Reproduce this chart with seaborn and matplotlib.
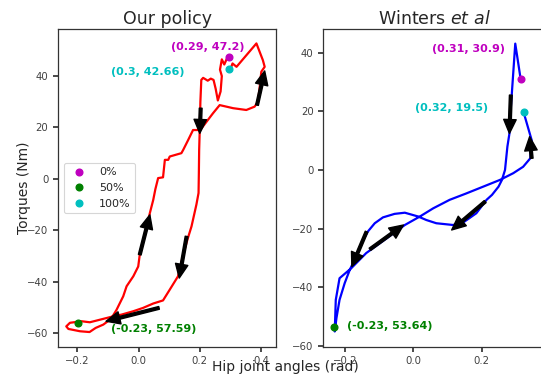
import matplotlib
matplotlib.use("Agg")
import matplotlib.pyplot as plt
import seaborn as sns
import pandas as pd

# ---------------- data ----------------
# Left panel: "Our policy" (hip angle rad, torque Nm), gait order
ours_angle = [0.29, 0.28, 0.272, 0.266, 0.272, 0.268, 0.259, 0.252, 0.245, 0.236,
              0.226, 0.218, 0.211, 0.205, 0.202, 0.200, 0.198, 0.197, 0.196, 0.189,
              0.173, 0.160, 0.145, 0.129, 0.102, 0.080, 0.048, 0.015, -0.017, -0.055,
              -0.083, -0.126, -0.159, -0.186, -0.224, -0.236, -0.229, -0.191, -0.160, -0.140,
              -0.115, -0.090, -0.072, -0.050, -0.039, -0.017, -0.001, 0.004, 0.020, 0.037,
              0.048, 0.055, 0.064, 0.080, 0.086, 0.097, 0.102, 0.140, 0.146, 0.162,
              0.178, 0.195, 0.206, 0.243, 0.265, 0.309, 0.352, 0.379, 0.390, 0.395,
              0.401, 0.412, 0.406, 0.385, 0.320, 0.307, 0.300]
ours_torque = [47.2, 44.5, 46.5, 42.5, 40.0, 34.0, 30.5, 35.0, 38.5, 39.0,
               38.2, 38.8, 39.3, 38.5, 30.0, 19.5, 11.3, 2.0, -5.5, -10.0,
               -18.5, -23.5, -30.0, -37.9, -43.1, -47.3, -48.5, -50.2, -51.5, -52.8,
               -53.5, -54.8, -55.8, -55.4, -56.0, -57.4, -58.4, -59.3, -59.6, -58.0,
               -56.7, -54.5, -51.0, -45.7, -41.8, -37.9, -34.1, -29.5, -22.0, -13.3,
               -8.2, -4.0, 0.3, 0.6, 7.4, 7.4, 8.7, 10.0, 11.3, 15.1,
               19.0, 19.0, 19.7, 25.5, 28.7, 27.5, 26.8, 28.1, 30.0, 35.0,
               41.7, 43.6, 46.2, 52.7, 43.6, 44.9, 42.66]

# Right panel: "Winters et al"
wint_angle = [0.314, 0.298, 0.288, 0.283, 0.281, 0.275, 0.268, 0.259, 0.249, 0.230,
              0.214, 0.184, 0.145, 0.116, 0.067, 0.038, 0.014, -0.025, -0.055, -0.089,
              -0.113, -0.133, -0.152, -0.172, -0.186, -0.201, -0.216, -0.225, -0.230, -0.227,
              -0.216, -0.182, -0.138, -0.080, -0.025, 0.019, 0.058, 0.106, 0.155, 0.204,
              0.253, 0.292, 0.321, 0.342, 0.346, 0.323]
wint_torque = [30.9, 43.2, 26.2, 18.0, 12.5, 8.0, 0.0, -3.4, -5.7, -8.5,
               -10.2, -14.8, -18.0, -18.8, -18.2, -17.1, -15.9, -14.6, -15.0, -16.2,
               -18.2, -21.0, -25.0, -30.7, -34.1, -38.7, -44.4, -50.6, -55.2, -44.4,
               -37.0, -33.6, -28.4, -23.5, -18.8, -15.9, -13.1, -10.2, -8.0, -5.7,
               -3.4, -1.1, 1.1, 4.0, 10.2, 19.5]

# gait-phase markers (0%, 50%, 100%)
phase_labels = ["0%", "50%", "100%"]
phase_colors = ["#bf00bf", "#008000", "#00bfbf"]
ours_phase_x = [0.296, -0.197, 0.294]
ours_phase_y = [47.3, -56.0, 42.6]
wint_phase_x = [0.314, -0.231, 0.323]
wint_phase_y = [31.0, -53.5, 19.7]

# annotation texts and their positions
ours_notes = ["(0.29, 47.2)", "(-0.23, 57.59)", "(0.3, 42.66)"]
ours_note_x = [0.226, 0.051, 0.029]
ours_note_y = [51.4, -58.6, 41.7]
wint_notes = ["(0.31, 30.9)", "(-0.23, 53.64)", "(0.32, 19.5)"]
wint_note_x = [0.161, -0.068, 0.112]
wint_note_y = [41.2, -53.2, 21.3]

# direction arrows: (tail_x, tail_y, tip_x, tip_y)
ours_arrows = [(0.387, 28.7, 0.412, 42.0),
               (0.203, 27.5, 0.200, 17.7),
               (0.157, -22.4, 0.133, -38.6),
               (0.067, -50.2, -0.106, -55.4),
               (0.004, -29.5, 0.037, -14.0)]
wint_arrows = [(0.285, 25.6, 0.281, 12.5),
               (0.346, 4.0, 0.340, 11.4),
               (0.210, -10.8, 0.112, -20.5),
               (-0.137, -21.1, -0.180, -33.0),
               (-0.127, -27.1, -0.029, -18.8)]

ours_df = pd.DataFrame({"angle": ours_angle, "torque": ours_torque})
wint_df = pd.DataFrame({"angle": wint_angle, "torque": wint_torque})

# ---------------- style ----------------
sns.set_theme(style="ticks", color_codes=False)
plt.rcParams["font.family"] = ["DejaVu Sans"]
plt.rcParams.update({
    "axes.edgecolor": "0.2",
    "axes.linewidth": 0.9,
    "xtick.color": "0.2",
    "ytick.color": "0.2",
    "xtick.labelcolor": "0.25",
    "ytick.labelcolor": "0.25",
    "xtick.major.size": 3.5,
    "ytick.major.size": 3.5,
    "xtick.labelsize": 7.3,
    "ytick.labelsize": 7.3,
    "text.color": "0.15",
    "axes.labelcolor": "0.15",
})

fig = plt.figure(figsize=(5.41, 3.75), dpi=100)
ax1 = fig.add_axes([0.1072, 0.0755, 0.403, 0.8464])
ax2 = fig.add_axes([0.5976, 0.0755, 0.4098, 0.8464])


def draw(ax, df, color, px, py, notes, nx, ny, arrows):
    sns.lineplot(data=df, x="angle", y="torque", sort=False, estimator=None,
                 color=color, linewidth=1.6, ax=ax)
    for i in range(3):
        ax.plot(px[i], py[i], "o", color=phase_colors[i], markersize=4.8,
                label=phase_labels[i], zorder=4)
        ax.text(nx[i], ny[i], notes[i], color=phase_colors[i], fontsize=8,
                fontweight="bold", ha="center", va="center")
    for tx, ty, hx, hy in arrows:
        ax.annotate("", xy=(hx, hy), xytext=(tx, ty),
                    arrowprops=dict(facecolor="black", edgecolor="black",
                                    width=2.0, headwidth=9, headlength=10,
                                    shrink=0.0), zorder=5)
    ax.set_xlabel("")
    ax.set_ylabel("")


draw(ax1, ours_df, "#ff0000", ours_phase_x, ours_phase_y, ours_notes,
     ours_note_x, ours_note_y, ours_arrows)
draw(ax2, wint_df, "#0000ff", wint_phase_x, wint_phase_y, wint_notes,
     wint_note_x, wint_note_y, wint_arrows)

ax1.set_xlim(-0.263, 0.449)
ax1.set_ylim(-65.3, 58.2)
ax2.set_xlim(-0.2635, 0.385)
ax2.set_ylim(-60.4, 48.1)
ax1.set_xticks([-0.2, 0.0, 0.2, 0.4])
ax1.set_yticks([-60, -40, -20, 0, 20, 40])
ax2.set_xticks([-0.2, 0.0, 0.2])
ax2.set_yticks([-60, -40, -20, 0, 20, 40])

ax1.set_title("Our policy", fontsize=12.5, pad=4)
ax2.set_title(r"Winters $\it{et\ al}$", fontsize=12.5, pad=4)

ax1.set_ylabel("Torques (Nm)", fontsize=10)
ax1.yaxis.set_label_coords(-0.125, 0.5)

leg = ax1.legend(loc="center left", fontsize=8, frameon=True, borderpad=0.4,
                 handletextpad=0.8)
leg.get_frame().set_edgecolor("0.8")
leg.get_frame().set_linewidth(0.8)

fig.text(0.527, 0.0107, "Hip joint angles (rad)", fontsize=10, ha="center",
         va="baseline", color="0.15")

fig.savefig("out.png", dpi=100)
